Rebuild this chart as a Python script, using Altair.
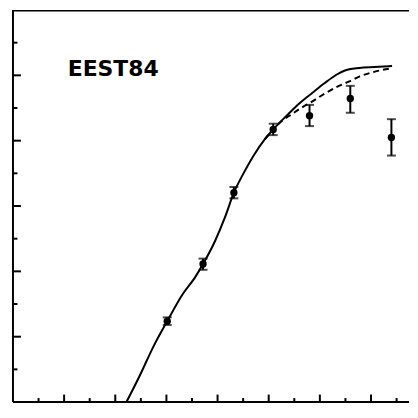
import altair as alt
import pandas as pd

# solid model curve
solid_x = [2.218, 2.490, 2.743, 3.016, 3.327, 3.560, 3.716, 3.949, 4.144, 4.319, 4.494, 4.728,
           4.922, 5.097, 5.409, 5.603, 5.856, 6.089, 6.323, 6.518, 6.770, 7.062, 7.412]
solid_y = [0.0, 0.422, 0.845, 1.238, 1.660, 1.908, 2.112, 2.461, 2.825, 3.204, 3.480, 3.801,
           4.019, 4.179, 4.427, 4.571, 4.733, 4.878, 5.009, 5.082, 5.111, 5.126, 5.141]
# dashed model curve
dash_x = [4.922, 5.097, 5.292, 5.409, 5.603, 5.856, 6.089, 6.323, 6.576, 6.770, 7.062, 7.412]
dash_y = [4.019, 4.179, 4.325, 4.383, 4.485, 4.602, 4.718, 4.820, 4.908, 4.981, 5.053, 5.111]

# measured points with error bars
pt_x = [3.016, 3.716, 4.319, 5.088, 5.798, 6.595, 7.399]
pt_y = [1.238, 2.112, 3.204, 4.172, 4.383, 4.645, 4.048]
pt_lo = [1.180, 2.024, 3.117, 4.085, 4.223, 4.427, 3.772]
pt_hi = [1.296, 2.195, 3.291, 4.260, 4.548, 4.839, 4.329]

# axis ticks (inward)
y_major = [1, 2, 3, 4, 5]
y_minor = [0.5, 1.5, 2.5, 3.5, 4.5, 5.5]
x_major = [1, 2, 3, 4, 5, 6, 7]
x_minor = [0.5, 1.5, 2.5, 3.5, 4.5, 5.5, 6.5, 7.5]

label_text = ["EEST84"]
label_x = [1.07]
label_y = [4.985]

W, H = 398, 394
XMAX, YMAX = 7.743, 6.0

xs = alt.Scale(domain=[0, XMAX], nice=False, zero=False)
ys = alt.Scale(domain=[0, YMAX], nice=False, zero=False)

solid = alt.Chart(pd.DataFrame({"x": solid_x, "y": solid_y})).mark_line(
    color="black", strokeWidth=2, interpolate="monotone"
).encode(x=alt.X("x:Q", scale=xs, axis=None), y=alt.Y("y:Q", scale=ys, axis=None))

dashed = alt.Chart(pd.DataFrame({"x": dash_x, "y": dash_y})).mark_line(
    color="black", strokeWidth=2, strokeDash=[6, 4], interpolate="monotone"
).encode(x=alt.X("x:Q", scale=xs, axis=None), y=alt.Y("y:Q", scale=ys, axis=None))

pts_df = pd.DataFrame({"x": pt_x, "y": pt_y, "lo": pt_lo, "hi": pt_hi})
err = alt.Chart(pts_df).mark_rule(color="black", strokeWidth=2).encode(
    x=alt.X("x:Q", scale=xs, axis=None),
    y=alt.Y("lo:Q", scale=ys, axis=None),
    y2="hi:Q",
)
cap_lo = alt.Chart(pts_df).mark_tick(color="black", orient="horizontal", size=9, thickness=2).encode(
    x=alt.X("x:Q", scale=xs, axis=None), y=alt.Y("lo:Q", scale=ys, axis=None)
)
cap_hi = alt.Chart(pts_df).mark_tick(color="black", orient="horizontal", size=9, thickness=2).encode(
    x=alt.X("x:Q", scale=xs, axis=None), y=alt.Y("hi:Q", scale=ys, axis=None)
)
dots = alt.Chart(pts_df).mark_circle(color="black", opacity=1, size=55).encode(
    x=alt.X("x:Q", scale=xs, axis=None), y=alt.Y("y:Q", scale=ys, axis=None)
)

# frame
left_line = alt.Chart(pd.DataFrame({"a": [0]})).mark_rule(color="black", strokeWidth=2).encode(
    x=alt.value(0), y=alt.value(0), y2=alt.value(H)
)
bottom_line = alt.Chart(pd.DataFrame({"a": [0]})).mark_rule(color="black", strokeWidth=2).encode(
    x=alt.value(0), x2=alt.value(W), y=alt.value(H)
)
top_line = alt.Chart(pd.DataFrame({"a": [0]})).mark_rule(color="black", strokeWidth=1.5).encode(
    x=alt.value(0), x2=alt.value(W), y=alt.value(0.75)
)

ymaj = alt.Chart(pd.DataFrame({"v": y_major})).mark_rule(color="black", strokeWidth=2).encode(
    y=alt.Y("v:Q", scale=ys, axis=None), x=alt.value(0), x2=alt.value(8)
)
ymin = alt.Chart(pd.DataFrame({"v": y_minor})).mark_rule(color="black", strokeWidth=2).encode(
    y=alt.Y("v:Q", scale=ys, axis=None), x=alt.value(0), x2=alt.value(4.5)
)
xmaj = alt.Chart(pd.DataFrame({"v": x_major})).mark_rule(color="black", strokeWidth=2).encode(
    x=alt.X("v:Q", scale=xs, axis=None), y=alt.value(H), y2=alt.value(H - 7.5)
)
xmin = alt.Chart(pd.DataFrame({"v": x_minor})).mark_rule(color="black", strokeWidth=2).encode(
    x=alt.X("v:Q", scale=xs, axis=None), y=alt.value(H), y2=alt.value(H - 4)
)

label = alt.Chart(pd.DataFrame({"x": label_x, "y": label_y, "t": label_text})).mark_text(
    font="DejaVu Sans", fontWeight="bold", fontSize=22, align="left", baseline="alphabetic", color="black"
).encode(x=alt.X("x:Q", scale=xs, axis=None), y=alt.Y("y:Q", scale=ys, axis=None), text="t:N")

chart = alt.layer(
    top_line, left_line, bottom_line, ymaj, ymin, xmaj, xmin,
    dashed, solid, err, cap_lo, cap_hi, dots, label
).properties(
    width=W, height=H,
    padding={"left": 4, "top": 0, "right": 0, "bottom": 2},
    background="white",
).configure_view(stroke=None)

chart.save("out.html", embed_options={"renderer": "svg", "actions": False})
